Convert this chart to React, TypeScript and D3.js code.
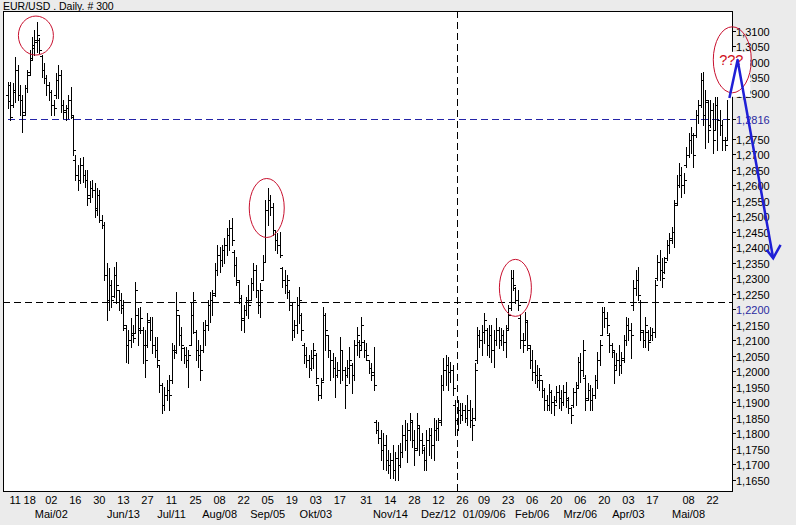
import React from 'react';
import * as d3 from 'd3';

// ---------- data (EUR/USD daily, 300 bars) ----------
const opens = [
  1.2892, 1.2924, 1.2860, 1.2902, 1.2973, 1.2892, 1.2876, 1.2837, 1.2915, 1.2966,
  1.3012, 1.3044, 1.3063, 1.3070, 1.3018, 1.2973, 1.2947, 1.2924, 1.2902, 1.2860,
  1.2892, 1.2941, 1.2957, 1.2860, 1.2844, 1.2850, 1.2876, 1.2821, 1.2682, 1.2634,
  1.2618, 1.2666, 1.2634, 1.2618, 1.2569, 1.2592, 1.2585, 1.2527, 1.2569, 1.2488,
  1.2472, 1.2311, 1.2230, 1.2278, 1.2243, 1.2311, 1.2262, 1.2230, 1.2214, 1.2140,
  1.2085, 1.2101, 1.2117, 1.2123, 1.2182, 1.2140, 1.2133, 1.2085, 1.2085, 1.2159,
  1.2133, 1.2085, 1.2069, 1.2020, 1.1955, 1.1891, 1.1923, 1.1939, 1.1972, 1.2069,
  1.2069, 1.2182, 1.2117, 1.2075, 1.2052, 1.2036, 1.2085, 1.2182, 1.2127, 1.2069,
  1.2052, 1.2069, 1.2133, 1.2149, 1.2214, 1.2230, 1.2253, 1.2327, 1.2375, 1.2359,
  1.2392, 1.2408, 1.2440, 1.2463, 1.2385, 1.2343, 1.2288, 1.2236, 1.2172, 1.2198,
  1.2230, 1.2230, 1.2285, 1.2327, 1.2262, 1.2214, 1.2295, 1.2353, 1.2521, 1.2553,
  1.2530, 1.2456, 1.2424, 1.2408, 1.2333, 1.2295, 1.2278, 1.2256, 1.2214, 1.2133,
  1.2149, 1.2214, 1.2182, 1.2085, 1.2052, 1.2036, 1.2010, 1.2043, 1.2052, 1.1955,
  1.1923, 1.1972, 1.2182, 1.2117, 1.2069, 1.2036, 1.2010, 1.1988, 1.2004, 1.2069,
  1.2004, 1.1988, 1.2010, 1.2020, 1.1988, 1.2085, 1.2094, 1.2085, 1.2094, 1.2069,
  1.2036, 1.2010, 1.1997, 1.1836, 1.1810, 1.1784, 1.1746, 1.1762, 1.1713, 1.1697,
  1.1713, 1.1681, 1.1720, 1.1697, 1.1739, 1.1794, 1.1778, 1.1810, 1.1836, 1.1778,
  1.1752, 1.1817, 1.1778, 1.1746, 1.1713, 1.1778, 1.1794, 1.1762, 1.1810, 1.1817,
  1.1842, 1.1955, 1.2004, 1.2020, 1.1997, 1.2004, 1.1891, 1.1842, 1.1875, 1.1859,
  1.1875, 1.1849, 1.1875, 1.1842, 1.1849, 1.2036, 1.2117, 1.2101, 1.2127, 1.2133,
  1.2085, 1.2117, 1.2069, 1.2101, 1.2133, 1.2101, 1.2117, 1.2094, 1.2140, 1.2204,
  1.2301, 1.2269, 1.2230, 1.2172, 1.2101, 1.2101, 1.2159, 1.2075, 1.2036, 1.1997,
  1.1988, 1.1972, 1.1972, 1.1939, 1.1907, 1.1891, 1.1933, 1.1901, 1.1907, 1.1933,
  1.1913, 1.1901, 1.1933, 1.1907, 1.1881, 1.1891, 1.1933, 1.1955, 1.2030, 1.2004,
  1.1978, 1.1913, 1.1939, 1.1907, 1.1923, 1.1972, 1.2036, 1.2117, 1.2191, 1.2172,
  1.2117, 1.2085, 1.2062, 1.2020, 1.2036, 1.2020, 1.2043, 1.2101, 1.2149, 1.2133,
  1.2214, 1.2269, 1.2295, 1.2224, 1.2127, 1.2101, 1.2127, 1.2101, 1.2117, 1.2127,
  1.2301, 1.2353, 1.2327, 1.2320, 1.2366, 1.2408, 1.2430, 1.2450, 1.2543, 1.2601,
  1.2634, 1.2601, 1.2666, 1.2698, 1.2747, 1.2763, 1.2763, 1.2828, 1.2860, 1.2941,
  1.2828, 1.2870, 1.2795, 1.2844, 1.2779, 1.2860, 1.2811, 1.2795, 1.2747, 1.2747,
];

const highs = [
  1.2934, 1.2934, 1.2931, 1.3015, 1.2989, 1.2924, 1.2892, 1.2924, 1.2973, 1.3037,
  1.3080, 1.3102, 1.3128, 1.3076, 1.3021, 1.2996, 1.2957, 1.2934, 1.2908, 1.2876,
  1.2963, 1.2989, 1.2973, 1.2876, 1.2860, 1.2892, 1.2918, 1.2828, 1.2698, 1.2666,
  1.2689, 1.2692, 1.2650, 1.2650, 1.2614, 1.2618, 1.2608, 1.2592, 1.2585, 1.2505,
  1.2482, 1.2350, 1.2333, 1.2295, 1.2337, 1.2353, 1.2262, 1.2253, 1.2230, 1.2149,
  1.2133, 1.2172, 1.2149, 1.2288, 1.2204, 1.2207, 1.2143, 1.2133, 1.2188, 1.2175,
  1.2175, 1.2110, 1.2110, 1.2020, 1.1962, 1.1949, 1.1972, 1.1988, 1.2091, 1.2085,
  1.2256, 1.2182, 1.2143, 1.2078, 1.2078, 1.2069, 1.2220, 1.2256, 1.2133, 1.2101,
  1.2085, 1.2159, 1.2165, 1.2230, 1.2256, 1.2262, 1.2350, 1.2408, 1.2401, 1.2408,
  1.2430, 1.2463, 1.2488, 1.2495, 1.2392, 1.2369, 1.2295, 1.2246, 1.2214, 1.2240,
  1.2278, 1.2301, 1.2350, 1.2343, 1.2262, 1.2285, 1.2375, 1.2553, 1.2592, 1.2569,
  1.2543, 1.2456, 1.2446, 1.2450, 1.2337, 1.2327, 1.2311, 1.2262, 1.2224, 1.2165,
  1.2240, 1.2272, 1.2188, 1.2091, 1.2078, 1.2052, 1.2069, 1.2091, 1.2059, 1.1955,
  1.1978, 1.2207, 1.2188, 1.2117, 1.2069, 1.2059, 1.2046, 1.2030, 1.2110, 1.2069,
  1.2014, 1.2036, 1.2078, 1.2026, 1.2101, 1.2143, 1.2101, 1.2175, 1.2101, 1.2091,
  1.2036, 1.2026, 1.2078, 1.1842, 1.1836, 1.1810, 1.1800, 1.1794, 1.1746, 1.1736,
  1.1762, 1.1739, 1.1762, 1.1768, 1.1826, 1.1842, 1.1833, 1.1865, 1.1842, 1.1810,
  1.1865, 1.1826, 1.1800, 1.1755, 1.1810, 1.1817, 1.1817, 1.1849, 1.1842, 1.1849,
  1.1988, 1.2043, 1.2052, 1.2046, 1.2030, 1.2020, 1.1907, 1.1907, 1.1897, 1.1897,
  1.1891, 1.1923, 1.1907, 1.1881, 1.2026, 1.2143, 1.2133, 1.2149, 1.2188, 1.2140,
  1.2149, 1.2149, 1.2133, 1.2172, 1.2143, 1.2140, 1.2133, 1.2149, 1.2214, 1.2327,
  1.2327, 1.2272, 1.2262, 1.2182, 1.2123, 1.2191, 1.2165, 1.2085, 1.2069, 1.2036,
  1.2020, 1.2010, 1.1972, 1.1946, 1.1923, 1.1959, 1.1939, 1.1920, 1.1952, 1.1955,
  1.1939, 1.1955, 1.1965, 1.1917, 1.1884, 1.1946, 1.1965, 1.2046, 1.2059, 1.2101,
  1.1988, 1.1962, 1.1955, 1.1946, 1.1988, 1.2062, 1.2101, 1.2207, 1.2207, 1.2191,
  1.2123, 1.2091, 1.2069, 1.2059, 1.2085, 1.2062, 1.2117, 1.2175, 1.2172, 1.2156,
  1.2295, 1.2327, 1.2337, 1.2230, 1.2133, 1.2175, 1.2133, 1.2143, 1.2140, 1.2295,
  1.2375, 1.2392, 1.2366, 1.2369, 1.2424, 1.2446, 1.2466, 1.2553, 1.2634, 1.2672,
  1.2660, 1.2640, 1.2724, 1.2769, 1.2789, 1.2769, 1.2844, 1.2876, 1.2963, 1.2966,
  1.2908, 1.2876, 1.2876, 1.2866, 1.2886, 1.2886, 1.2844, 1.2811, 1.2757, 1.2876,
];

const lows = [
  1.2850, 1.2811, 1.2853, 1.2870, 1.2876, 1.2828, 1.2773, 1.2828, 1.2902, 1.2957,
  1.3005, 1.3021, 1.3031, 1.3028, 1.2950, 1.2931, 1.2892, 1.2876, 1.2828, 1.2828,
  1.2882, 1.2882, 1.2837, 1.2818, 1.2811, 1.2818, 1.2818, 1.2698, 1.2618, 1.2585,
  1.2608, 1.2611, 1.2595, 1.2537, 1.2547, 1.2563, 1.2498, 1.2505, 1.2482, 1.2463,
  1.2295, 1.2165, 1.2198, 1.2207, 1.2240, 1.2220, 1.2198, 1.2188, 1.2133, 1.2030,
  1.2026, 1.2078, 1.2094, 1.2123, 1.2085, 1.2123, 1.2026, 1.1981, 1.2078, 1.2101,
  1.2059, 1.2046, 1.2014, 1.1933, 1.1865, 1.1875, 1.1907, 1.1875, 1.1962, 1.2043,
  1.2059, 1.2085, 1.2036, 1.2026, 1.2014, 1.1949, 1.2085, 1.2123, 1.2036, 1.2014,
  1.1972, 1.2062, 1.2085, 1.2133, 1.2159, 1.2182, 1.2243, 1.2311, 1.2320, 1.2340,
  1.2350, 1.2375, 1.2392, 1.2408, 1.2308, 1.2278, 1.2220, 1.2133, 1.2127, 1.2182,
  1.2172, 1.2230, 1.2262, 1.2240, 1.2188, 1.2175, 1.2295, 1.2353, 1.2472, 1.2505,
  1.2440, 1.2392, 1.2382, 1.2369, 1.2272, 1.2253, 1.2236, 1.2198, 1.2101, 1.2110,
  1.2123, 1.2156, 1.2101, 1.2026, 1.2014, 1.1981, 1.2004, 1.2010, 1.1962, 1.1907,
  1.1913, 1.1972, 1.2069, 1.2046, 1.1972, 1.1981, 1.1917, 1.1981, 1.1962, 1.1972,
  1.1881, 1.1981, 1.1962, 1.1930, 1.1972, 1.2052, 1.2046, 1.2069, 1.2046, 1.2036,
  1.1994, 1.1972, 1.1939, 1.1800, 1.1768, 1.1713, 1.1683, 1.1681, 1.1671, 1.1655,
  1.1655, 1.1649, 1.1649, 1.1691, 1.1723, 1.1746, 1.1707, 1.1778, 1.1755, 1.1697,
  1.1746, 1.1729, 1.1736, 1.1681, 1.1681, 1.1729, 1.1720, 1.1713, 1.1778, 1.1778,
  1.1826, 1.1939, 1.1955, 1.1939, 1.1965, 1.1923, 1.1794, 1.1810, 1.1833, 1.1842,
  1.1836, 1.1826, 1.1820, 1.1778, 1.1842, 1.2026, 1.2078, 1.2052, 1.2091, 1.2052,
  1.2046, 1.2030, 1.2014, 1.2085, 1.2075, 1.2085, 1.2069, 1.2046, 1.2133, 1.2198,
  1.2262, 1.2220, 1.2198, 1.2075, 1.2062, 1.2101, 1.2069, 1.2010, 1.1972, 1.1962,
  1.1949, 1.1939, 1.1917, 1.1875, 1.1875, 1.1875, 1.1865, 1.1859, 1.1901, 1.1881,
  1.1875, 1.1891, 1.1884, 1.1865, 1.1833, 1.1884, 1.1891, 1.1946, 1.1965, 1.1985,
  1.1875, 1.1907, 1.1875, 1.1875, 1.1913, 1.1946, 1.2020, 1.2117, 1.2143, 1.2123,
  1.2062, 1.2046, 1.1962, 1.2004, 1.1988, 1.1994, 1.2030, 1.2085, 1.2101, 1.2043,
  1.2198, 1.2246, 1.2230, 1.2101, 1.2078, 1.2078, 1.2069, 1.2101, 1.2101, 1.2110,
  1.2295, 1.2295, 1.2272, 1.2317, 1.2359, 1.2382, 1.2414, 1.2401, 1.2537, 1.2595,
  1.2563, 1.2576, 1.2660, 1.2692, 1.2705, 1.2660, 1.2756, 1.2802, 1.2853, 1.2795,
  1.2721, 1.2740, 1.2789, 1.2705, 1.2779, 1.2714, 1.2763, 1.2714, 1.2714, 1.2747,
];

const closes = [
  1.2873, 1.2821, 1.2908, 1.2973, 1.2892, 1.2876, 1.2828, 1.2915, 1.2957, 1.3005,
  1.3054, 1.3070, 1.3086, 1.3037, 1.2973, 1.2947, 1.2924, 1.2902, 1.2860, 1.2850,
  1.2941, 1.2957, 1.2860, 1.2837, 1.2850, 1.2876, 1.2828, 1.2714, 1.2634, 1.2618,
  1.2666, 1.2634, 1.2618, 1.2559, 1.2592, 1.2585, 1.2521, 1.2569, 1.2488, 1.2472,
  1.2311, 1.2230, 1.2278, 1.2230, 1.2311, 1.2278, 1.2230, 1.2204, 1.2149, 1.2085,
  1.2101, 1.2123, 1.2107, 1.2262, 1.2133, 1.2172, 1.2085, 1.2036, 1.2165, 1.2133,
  1.2085, 1.2069, 1.2036, 1.1955, 1.1891, 1.1923, 1.1939, 1.1923, 1.2069, 1.2062,
  1.2198, 1.2117, 1.2085, 1.2052, 1.2036, 1.2052, 1.2182, 1.2230, 1.2069, 1.2052,
  1.2004, 1.2133, 1.2149, 1.2214, 1.2230, 1.2246, 1.2327, 1.2375, 1.2359, 1.2392,
  1.2408, 1.2440, 1.2463, 1.2424, 1.2343, 1.2295, 1.2236, 1.2165, 1.2198, 1.2230,
  1.2214, 1.2285, 1.2327, 1.2262, 1.2214, 1.2262, 1.2353, 1.2521, 1.2553, 1.2530,
  1.2456, 1.2424, 1.2408, 1.2375, 1.2295, 1.2278, 1.2295, 1.2214, 1.2133, 1.2149,
  1.2214, 1.2230, 1.2133, 1.2052, 1.2036, 1.2010, 1.2043, 1.2069, 1.1978, 1.1923,
  1.1965, 1.2182, 1.2133, 1.2069, 1.2036, 1.2010, 1.1988, 1.2004, 1.2069, 1.2004,
  1.1955, 1.2010, 1.2036, 1.1988, 1.2085, 1.2117, 1.2069, 1.2149, 1.2069, 1.2052,
  1.2010, 1.1988, 1.1955, 1.1810, 1.1784, 1.1746, 1.1762, 1.1713, 1.1697, 1.1713,
  1.1681, 1.1720, 1.1697, 1.1739, 1.1794, 1.1778, 1.1810, 1.1842, 1.1778, 1.1746,
  1.1826, 1.1778, 1.1762, 1.1713, 1.1778, 1.1794, 1.1762, 1.1810, 1.1817, 1.1836,
  1.1955, 1.2004, 1.2020, 1.1997, 1.2004, 1.1946, 1.1842, 1.1875, 1.1859, 1.1875,
  1.1849, 1.1875, 1.1842, 1.1826, 1.2004, 1.2117, 1.2101, 1.2127, 1.2165, 1.2085,
  1.2117, 1.2069, 1.2101, 1.2133, 1.2101, 1.2117, 1.2094, 1.2133, 1.2182, 1.2301,
  1.2278, 1.2230, 1.2214, 1.2101, 1.2085, 1.2165, 1.2085, 1.2036, 1.1997, 1.1988,
  1.1972, 1.1988, 1.1939, 1.1907, 1.1891, 1.1933, 1.1901, 1.1891, 1.1933, 1.1913,
  1.1901, 1.1933, 1.1913, 1.1881, 1.1859, 1.1933, 1.1946, 1.2030, 1.2004, 1.2069,
  1.1907, 1.1939, 1.1907, 1.1923, 1.1972, 1.2036, 1.2085, 1.2191, 1.2172, 1.2149,
  1.2085, 1.2069, 1.2004, 1.2036, 1.2020, 1.2036, 1.2101, 1.2149, 1.2133, 1.2117,
  1.2269, 1.2295, 1.2246, 1.2133, 1.2101, 1.2149, 1.2094, 1.2117, 1.2127, 1.2278,
  1.2353, 1.2327, 1.2301, 1.2353, 1.2408, 1.2424, 1.2450, 1.2537, 1.2601, 1.2634,
  1.2601, 1.2618, 1.2698, 1.2747, 1.2763, 1.2698, 1.2828, 1.2860, 1.2941, 1.2828,
  1.2876, 1.2779, 1.2844, 1.2747, 1.2860, 1.2811, 1.2795, 1.2747, 1.2731, 1.2816,
];

const priceTicks = [
  1.31, 1.305, 1.3, 1.295, 1.29, 1.2816, 1.275, 1.27, 1.265, 1.26, 1.255, 1.25,
  1.245, 1.24, 1.235, 1.23, 1.225, 1.22, 1.215, 1.21, 1.205, 1.2, 1.195, 1.19,
  1.185, 1.18, 1.175, 1.17, 1.165,
];
const highlightedTicks = [1.2816, 1.22];

const dayTickIndex = [3, 9, 18, 28, 38, 48, 58, 68, 78, 88, 98, 108, 118, 128, 138,
  149, 159, 169, 179, 189, 198, 208, 218, 228, 238, 248, 258, 268, 283, 293];
const dayTickLabel = ['11', '18', '02', '16', '30', '13', '27', '11', '25', '08', '22',
  '05', '19', '03', '17', '31', '14', '28', '12', '26', '09', '23', '06', '20', '06',
  '20', '03', '17', '08', '22'];
const monthTickIndex = [18, 48, 68, 88, 108, 128, 159, 179, 198, 218, 238, 258, 283];
const monthTickLabel = ['Mai/02', 'Jun/13', 'Jul/11', 'Aug/08', 'Sep/05', 'Okt/03',
  'Nov/14', 'Dez/12', '01/09/06', 'Feb/06', 'Mrz/06', 'Apr/03', 'Mai/08'];

const lastPriceLevel = 1.2816;
const supportLevel = 1.2224;
const markerIndex = 186.7;

const circledIndex = [11.6, 107.6, 211.0];
const circledPrice = [1.3084, 1.2527, 1.2269];
const circleRx = [17.5, 17.5, 16];
const circleRy = [19.5, 29.5, 28.5];

const questionIndex = 301.2;
const questionPrice = 1.2996;

const forecastIndex = [300, 303.4, 318.2];
const forecastPrice = [1.2882, 1.3005, 1.2365];

const title = 'EUR/USD . Daily. # 300';

// ---------- chart ----------
const W = 796;
const H = 525;
const FONT = "'Liberation Sans', Arial, sans-serif";

export default function App() {
  const x = d3.scaleLinear().domain([0, opens.length - 1]).range([8, 727]);
  const y = d3.scaleLinear().domain([1.165, 1.31]).range([479.5, 30.6]);
  const fmt = (v: number) => d3.format('.4f')(v).replace('.', ',');

  const frame = { left: 3, top: 11, right: 732, bottom: 491 };

  const barPath = opens
    .map((o, i) => {
      const x0 = Math.round(x(i));
      const yh = Math.round(y(highs[i]));
      const yl = Math.round(y(lows[i]));
      const yo = Math.round(y(o));
      const yc = Math.round(y(closes[i]));
      return `M${x0 + 0.5},${yh}V${yl + 1}M${x0 - 2},${yo + 0.5}H${x0}M${x0 + 1},${yc + 0.5}H${x0 + 3}`;
    })
    .join('');

  const forecastLine = d3
    .line<number>()
    .x((_, i) => x(forecastIndex[i]))
    .y((_, i) => y(forecastPrice[i]))(forecastIndex) as string;
  const ex = x(forecastIndex[2]);
  const ey = y(forecastPrice[2]);

  const qx = x(questionIndex);
  const qy = y(questionPrice);

  const yLast = Math.round(y(lastPriceLevel)) + 0.5;
  const ySup = Math.round(y(supportLevel)) + 0.5;
  const xMark = Math.round(x(markerIndex)) + 0.5;

  return (
    <svg
      width={W}
      height={H}
      viewBox={`0 0 ${W} ${H}`}
      style={{ position: 'absolute', left: 0, top: 0, fontFamily: FONT }}
    >
      <rect x={0} y={0} width={W} height={H} fill="#ebebeb" />
      <rect
        x={frame.left}
        y={frame.top}
        width={frame.right - frame.left}
        height={frame.bottom - frame.top}
        fill="#ffffff"
      />

      {/* dashed reference lines */}
      <g shapeRendering="crispEdges" fill="none" strokeWidth={1}>
        <line x1={8} x2={frame.right} y1={yLast} y2={yLast} stroke="#2424a8" strokeDasharray="7,4" />
        <line x1={frame.left} x2={frame.right} y1={ySup} y2={ySup} stroke="#000" strokeDasharray="7,4" />
        <line x1={xMark} x2={xMark} y1={frame.top} y2={frame.bottom} stroke="#000" strokeDasharray="7,4" />
      </g>

      {/* OHLC bars */}
      <path d={barPath} stroke="#000" strokeWidth={1} fill="none" shapeRendering="crispEdges" />

      {/* frame */}
      <g stroke="#000" strokeWidth={1} shapeRendering="crispEdges">
        <line x1={frame.left + 0.5} x2={frame.left + 0.5} y1={frame.top} y2={frame.bottom + 1} />
        <line x1={frame.left} x2={frame.right + 1} y1={frame.top + 0.5} y2={frame.top + 0.5} />
        <line x1={frame.left} x2={frame.right + 1} y1={frame.bottom + 0.5} y2={frame.bottom + 0.5} />
        <line x1={frame.right + 0.5} x2={frame.right + 0.5} y1={frame.top} y2={frame.bottom + 1} />
      </g>

      {/* price axis */}
      <g fontSize={11}>
        {priceTicks.map((t) => {
          const ty = Math.round(y(t)) + 0.5;
          const hl = highlightedTicks.includes(t);
          return (
            <g key={t}>
              <line x1={frame.right} x2={frame.right + 4} y1={ty} y2={ty} stroke="#000" shapeRendering="crispEdges" />
              <text x={frame.right + 4} y={ty + 4} fill={hl ? '#2a2aa0' : '#000'}>
                {fmt(t)}
              </text>
            </g>
          );
        })}
      </g>

      {/* time axis */}
      <g fontSize={11} textAnchor="middle" fill="#000">
        {dayTickIndex.map((d, i) => (
          <text key={'d' + i} x={x(d)} y={504}>
            {dayTickLabel[i]}
          </text>
        ))}
        {monthTickIndex.map((d, i) => (
          <text key={'m' + i} x={x(d)} y={518}>
            {monthTickLabel[i]}
          </text>
        ))}
      </g>

      <text x={3} y={9.5} fontSize={10.5} fill="#000">
        {title}
      </text>

      {/* annotations */}
      {circledIndex.map((ci, i) => (
        <ellipse
          key={'c' + i}
          cx={x(ci)}
          cy={y(circledPrice[i])}
          rx={circleRx[i]}
          ry={circleRy[i]}
          fill="none"
          stroke="#c8102e"
          strokeWidth={1}
        />
      ))}
      <rect x={qx - 20} y={qy - 11} width={38} height={45} fill="#ffffff" />
      <ellipse cx={qx} cy={qy - 3} rx={19} ry={33} fill="none" stroke="#c8102e" strokeWidth={1} />
      <text
        x={qx - 1}
        y={qy + 2}
        fontSize={14.5}
        textAnchor="middle"
        fill="#d0101a"
        fontFamily="'Liberation Sans Narrow', 'Liberation Sans', Arial, sans-serif"
      >
        ???
      </text>
      <path d={forecastLine} fill="none" stroke="#1f1fd6" strokeWidth={2.5} strokeLinejoin="round" />
      <path
        d={`M${ex - 6.6},${ey - 8.3}L${ex},${ey}L${ex + 7.4},${ey - 13.3}`}
        fill="none"
        stroke="#1f1fd6"
        strokeWidth={2.5}
      />
    </svg>
  );
}
